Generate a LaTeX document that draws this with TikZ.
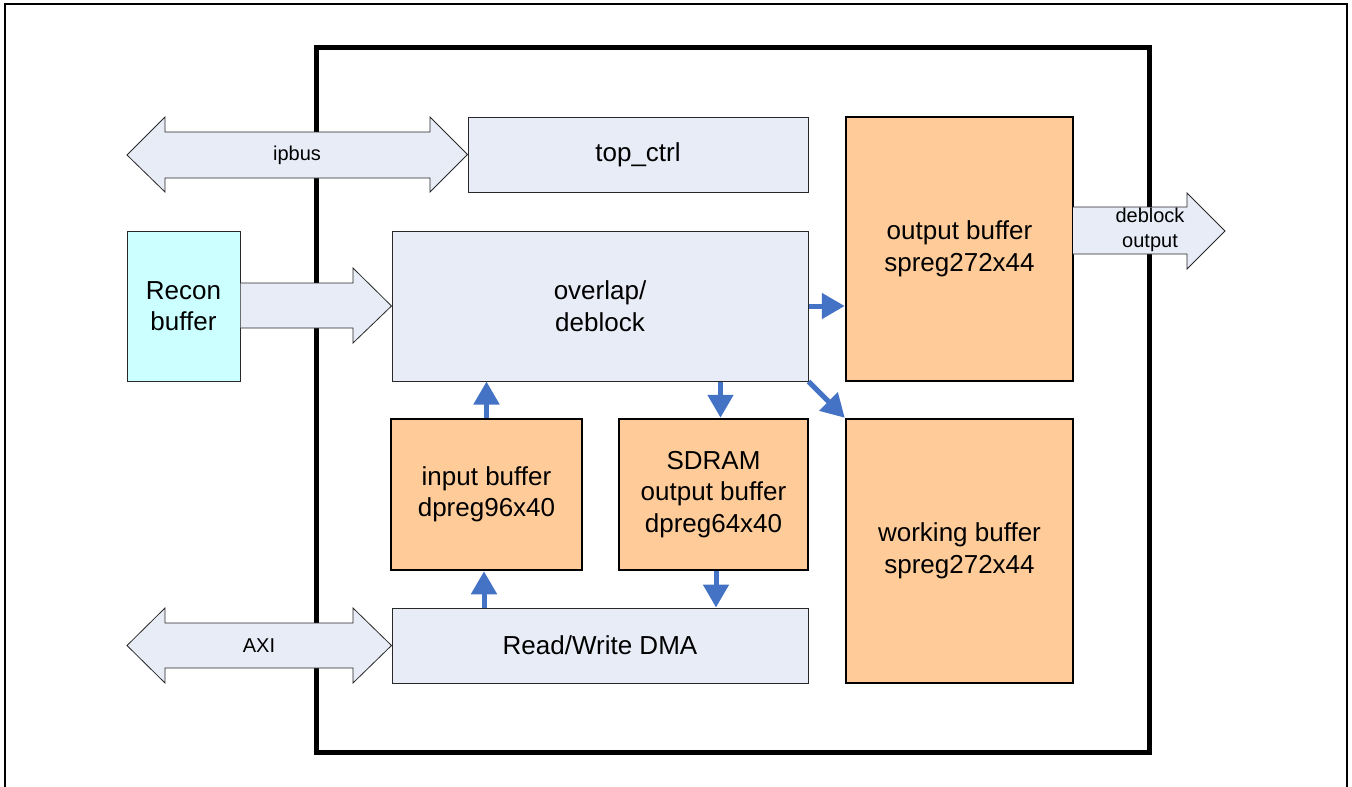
\documentclass[tikz,border=0pt]{standalone}
\usepackage{fontspec}
\setmainfont{Liberation Sans}
\usetikzlibrary{arrows.meta}
\definecolor{lb}{RGB}{231,236,247}
\definecolor{orb}{RGB}{255,204,153}
\definecolor{cyb}{RGB}{204,255,255}
\definecolor{barr}{RGB}{68,114,196}
\definecolor{edge}{RGB}{40,40,40}
\tikzset{
  lbox/.style={draw=edge, line width=1pt, fill=lb, inner sep=0pt, align=center,
    font=\fontsize{26}{31.5}\selectfont},
  obox/.style={draw=black, line width=2.5pt, fill=orb, inner sep=0pt, align=center,
    font=\fontsize{26}{31.5}\selectfont},
  cbox/.style={draw=edge, line width=1pt, fill=cyb, inner sep=0pt, align=center,
    font=\fontsize{26}{31.5}\selectfont},
  bigarrow/.style={draw=edge, line width=0.8pt, fill=lb, line join=miter},
  smalllabel/.style={inner sep=0pt, align=center, font=\fontsize{20}{25}\selectfont},
  barrow/.style={draw=barr, line width=5pt, -{Triangle[width=25pt,length=23pt]}},
  frame/.style={draw=black, line width=5pt},
}
\begin{document}
\begin{tikzpicture}[x=1pt,y=-1pt]
\useasboundingbox (0,0) rectangle (1352,787);
% outer frame (open at bottom)
\draw[line width=2.5pt] (5,787) -- (5,4) -- (1347,4) -- (1347,787);

% inner frame
\draw[frame] (316,47) rectangle (1149,752);

% boxes
\node[lbox, minimum width=340, minimum height=75] (top) at (638,154.5) {top\_ctrl};
\node[cbox, minimum width=113, minimum height=150] (rec) at (183.5,306) {Recon\\buffer};
\node[lbox, minimum width=416, minimum height=150] (ov) at (600,306) {overlap/\\deblock};
\node[obox, minimum width=227, minimum height=264] (ob) at (959.5,249) {output buffer\\spreg272x44};
\node[obox, minimum width=227, minimum height=264] (wb) at (959.5,551) {working buffer\\spreg272x44};
\node[obox, minimum width=191, minimum height=151] (ib) at (486.5,494.5) {input buffer\\dpreg96x40};
\node[obox, minimum width=189, minimum height=151] (sd) at (713.5,494.5) {SDRAM\\output buffer\\dpreg64x40};
\node[lbox, minimum width=416, minimum height=75] (dma) at (600,645.5) {Read/Write DMA};

% big arrows crossing the frame (drawn over it)
\draw[bigarrow] (127,155) -- (165,117) -- (165,132) -- (430,132) -- (430,117) -- (top.west)
  -- (430,192) -- (430,178) -- (165,178) -- (165,192) -- cycle;
\node[smalllabel] (ipbus) at (297,155.5) {ipbus};
\draw[bigarrow] (127,645.5) -- (165,608) -- (165,623) -- (353,623) -- (353,608) -- (dma.west)
  -- (353,683) -- (353,668) -- (165,668) -- (165,683) -- cycle;
\node[smalllabel] (axi) at (259,646) {AXI};
\draw[bigarrow] (1073,207) -- (1187,207) -- (1187,193) -- (1225,231) -- (1187,269) -- (1187,254) -- (1073,254);
\node[smalllabel] (dout) at (1150,230) {deblock\\output};
\draw[bigarrow] (rec.east |- 0,283) -- (353,283) -- (353,268) -- (ov.west) -- (353,343) -- (353,328) -- (rec.east |- 0,328);

% small blue arrows
\draw[barrow] (ov.east) -- (ov.east -| ob.west);
\draw[barrow] (ov.south east) -- (wb.north west);
\draw[barrow] ([xshift=7pt]sd.north |- ov.south) -- ([xshift=7pt]sd.north);
\draw[barrow] (ib.north) -- (ib.north |- ov.south);
\draw[barrow] ([xshift=-2.5pt]ib.south |- dma.north) -- ([xshift=-2.5pt]ib.south);
\draw[barrow] ([xshift=2.5pt]sd.south) -- ([xshift=2.5pt]sd.south |- dma.north);
\end{tikzpicture}
\end{document}
